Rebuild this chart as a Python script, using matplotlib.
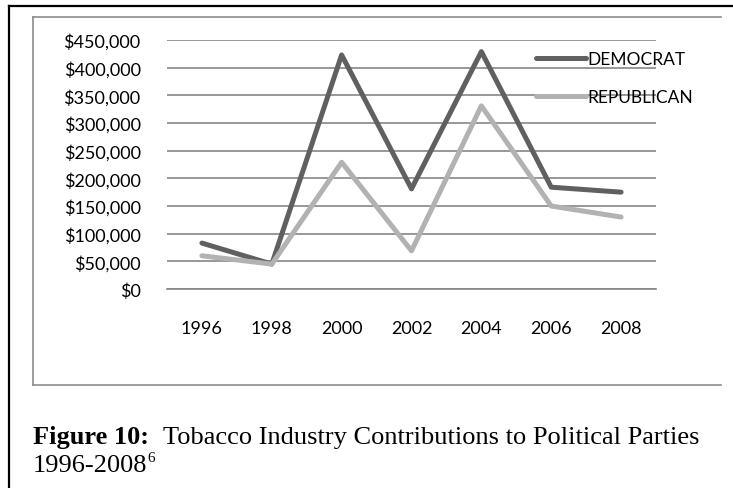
import matplotlib.pyplot as plt
from matplotlib.lines import Line2D
from matplotlib.ticker import FuncFormatter, MultipleLocator

# data
years = ["1996", "1998", "2000", "2002", "2004", "2006", "2008"]
democrat = [83000, 45000, 423000, 181000, 429000, 184000, 175000]
republican = [60000, 45000, 229000, 69000, 331000, 150000, 130000]

W, H = 733, 489
fig = plt.figure(figsize=(W / 100, H / 100), dpi=100)
fig.patch.set_facecolor("white")

# outer black frame (top + left)
fig.add_artist(Line2D([9 / W, 1], [1 - 7 / H, 1 - 7 / H], color="black", lw=1.6))
fig.add_artist(Line2D([9 / W, 9 / W], [1 - 7 / H, 0], color="black", lw=1.6))

# inner gray chart frame
fc = "#8c8c8c"
fig.add_artist(Line2D([33 / W, 721 / W], [1 - 18 / H, 1 - 18 / H], color=fc, lw=1.2))
fig.add_artist(Line2D([33 / W, 33 / W], [1 - 18 / H, 1 - 386 / H], color=fc, lw=1.2))
fig.add_artist(Line2D([33 / W, 721 / W], [1 - 386 / H, 1 - 386 / H], color=fc, lw=1.2))

ax = fig.add_axes([167 / W, 1 - 290 / H, (656 - 167) / W, (290 - 41) / H])
x = range(len(years))
ax.plot(x, democrat, color="#606060", lw=3.6, label="DEMOCRAT",
        solid_capstyle="round", solid_joinstyle="round", zorder=3)
ax.plot(x, republican, color="#b2b2b2", lw=3.6, label="REPUBLICAN",
        solid_capstyle="round", solid_joinstyle="round", zorder=3)

ax.set_xlim(-0.5, len(years) - 0.5)
ax.set_ylim(0, 450000)
ax.yaxis.set_major_locator(MultipleLocator(50000))
ax.yaxis.set_major_formatter(FuncFormatter(lambda v, p: "${:,.0f}".format(v)))
ax.set_xticks(list(x))
ax.set_xticklabels(years)
ax.grid(axis="y", color="#868686", lw=1.2)
ax.set_axisbelow(True)
for s in ["top", "right", "left"]:
    ax.spines[s].set_visible(False)
ax.spines["bottom"].set_color("#868686")
ax.spines["bottom"].set_linewidth(1.2)
ax.tick_params(length=0, labelsize=13)
ax.tick_params(axis="y", pad=19)
ax.tick_params(axis="x", pad=22)
for lab in ax.get_xticklabels() + ax.get_yticklabels():
    lab.set_fontfamily("Lato")

leg = fig.legend(loc="upper left", bbox_to_anchor=(527 / W, 1 - 43 / H),
                 frameon=False, borderpad=0, handlelength=2.9, handletextpad=0.1,
                 labelspacing=1.3, prop={"family": "Lato", "size": 12.5})

# caption
serif = "Liberation Serif"
fig.text(33 / W, 1 - 444 / H, "Figure 10:", fontfamily=serif,
         fontweight="bold", fontsize=19, va="baseline")
fig.text(163 / W, 1 - 444 / H, "Tobacco Industry Contributions to Political Parties",
         fontfamily=serif, fontsize=19, va="baseline")
t2 = fig.text(33 / W, 1 - 472 / H, "1996-2008", fontfamily=serif,
              fontsize=19, va="baseline")
fig.canvas.draw()
bb = t2.get_window_extent()
fig.text(bb.x1 / W, 1 - 462 / H, "6", fontfamily=serif, fontsize=11,
         va="baseline")

fig.savefig("out.png", dpi=100)
